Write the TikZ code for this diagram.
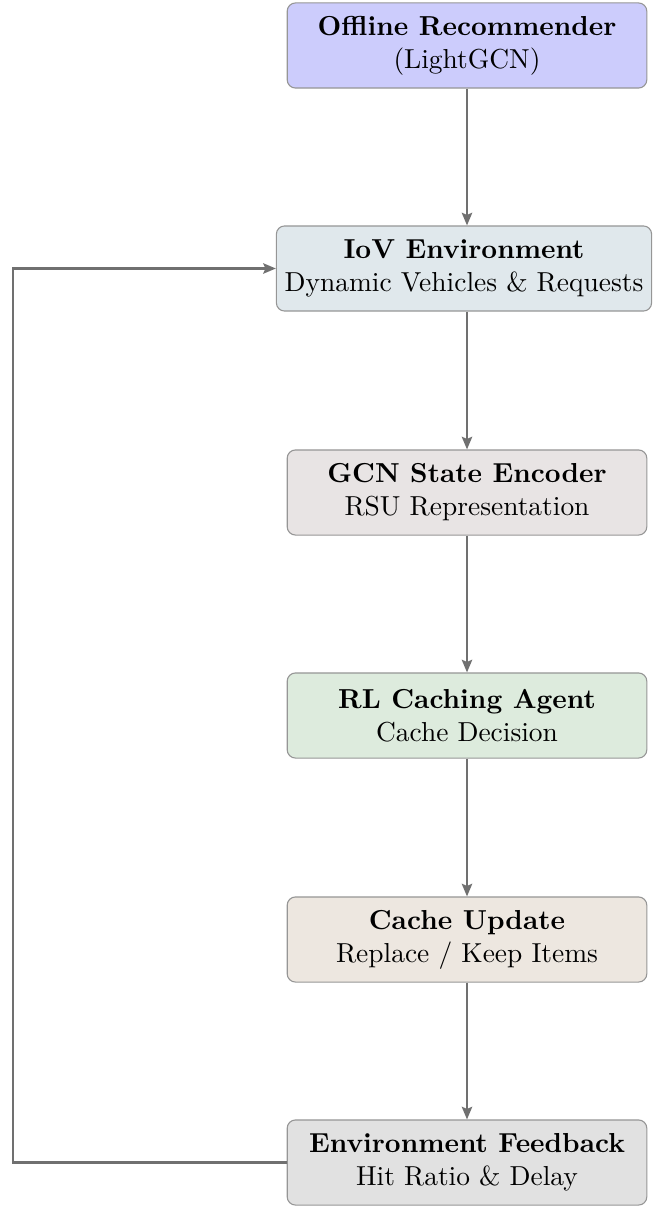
\documentclass[tikz,border=0pt]{standalone}
\usetikzlibrary{arrows.meta}
\definecolor{offlinefill}{RGB}{204,204,252}
\definecolor{iovfill}{RGB}{224,232,236}
\definecolor{gcnfill}{RGB}{232,228,228}
\definecolor{rlfill}{RGB}{221,235,221}
\definecolor{cachefill}{RGB}{237,231,224}
\definecolor{feedfill}{RGB}{225,225,225}
\definecolor{edgegray}{RGB}{150,150,150}
\definecolor{flowgray}{RGB}{112,112,112}
\begin{document}
\begin{tikzpicture}[x=0.3643pt,y=-0.3643pt,
  stagebox/.style={draw=edgegray, line width=0.4pt, rounded corners=3pt,
    minimum width=131pt, minimum height=31pt, inner sep=3pt,
    align=center, font=\normalsize},
  flow/.style={draw=flowgray, line width=0.75pt,
    -{Stealth[length=4.6pt,width=3.8pt,inset=0.8pt]}},
  flowplain/.style={draw=flowgray, line width=0.75pt}]
\useasboundingbox (0,0) rectangle (653,1207);

\node[stagebox, fill=offlinefill] (off) at (467,45.5)
  {\textbf{Offline Recommender}\\(LightGCN)};
\node[stagebox, fill=iovfill] (iov) at (464,268.5)
  {\textbf{IoV Environment}\\Dynamic Vehicles \& Requests};
\node[stagebox, fill=gcnfill] (gcn) at (467,492.5)
  {\textbf{GCN State Encoder}\\RSU Representation};
\node[stagebox, fill=rlfill] (rl) at (467,715.5)
  {\textbf{RL Caching Agent}\\Cache Decision};
\node[stagebox, fill=cachefill] (upd) at (467,939.5)
  {\textbf{Cache Update}\\Replace / Keep Items};
\node[stagebox, fill=feedfill] (fb) at (467,1162.5)
  {\textbf{Environment Feedback}\\Hit Ratio \& Delay};

\draw[flow] (off.south) -- (off.south |- iov.north);
\draw[flow] (iov.south -| off.south) -- (gcn.north);
\draw[flow] (gcn) -- (rl);
\draw[flow] (rl) -- (upd);
\draw[flow] (upd) -- (fb);

% feedback loop back to the environment
\coordinate (loopx) at (13,0);
\draw[flow] (fb.west) -- (fb.west -| loopx) -- (iov.west -| loopx) -- (iov.west);
\end{tikzpicture}
\end{document}
